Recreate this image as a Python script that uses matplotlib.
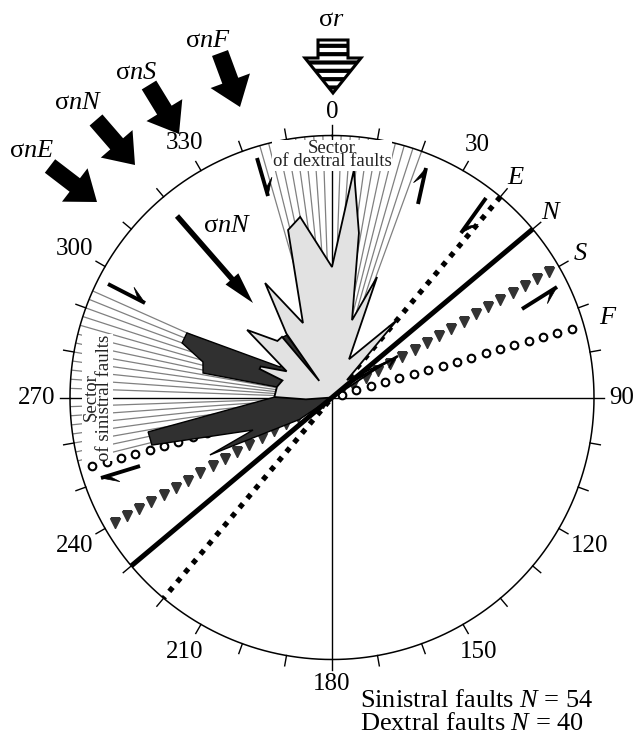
import numpy as np
import matplotlib
matplotlib.use("Agg")
import matplotlib.pyplot as plt
from matplotlib.patches import FancyArrow, Polygon

plt.rcParams['font.family'] = ['Liberation Serif', 'DejaVu Serif']
plt.rcParams['mathtext.fontset'] = 'custom'
plt.rcParams['mathtext.rm'] = 'Liberation Serif'
plt.rcParams['mathtext.it'] = 'Liberation Serif:italic'
plt.rcParams['hatch.linewidth'] = 3.0

# ---------------- data ----------------
# dextral faults rose outline (azimuth deg, relative length)
dextral_az = [258, 266, 270.5, 281, 289, 291.5, 293.5, 300, 308.5, 316, 320.5, 322.5, 324.5,
              329.7, 338.7, 345.3, 350, 360, 365.5, 369.3, 374.5, 380.5, 384, 400, 400.6,
              417, 419]
dextral_r = [0.0, 0.10, 0.22, 0.214, 0.20, 0.297, 0.297, 0.20, 0.414, 0.30, 0.30, 0.08, 0.30,
             0.506, 0.305, 0.661, 0.70, 0.498, 0.872, 0.636, 0.305, 0.491, 0.16, 0.386, 0.088,
             0.25, 0.04]
# sinistral faults rose outline
sinistral_az = [240, 236, 244.8, 247.6, 255.2, 259.4, 270.5, 280.8, 280.75, 285.4, 290, 294,
                300.4, 318, 321, 324, 326]
sinistral_r = [0.0, 0.15, 0.515, 0.326, 0.711, 0.714, 0.218, 0.214, 0.501, 0.511, 0.609, 0.606,
               0.23, 0.25, 0.297, 0.294, 0.05]
n_sinistral = 54
n_dextral = 40

line_names = ['E', 'N', 'S', 'F']
line_az = [40, 50, 60, 74]

shown_labels = [0, 30, 90, 120, 150, 180, 210, 240, 270, 300, 330]
dextral_sector = (-16, 20)
sinistral_sector = (256, 294)

# ---------------- figure ----------------
W, H = 641, 739
fig = plt.figure(figsize=(W / 100, H / 100), dpi=100)
cx, cy, R = 332, 397.5, 262
ax = fig.add_axes([(cx - R) / W, (H - cy - R) / H, 2 * R / W, 2 * R / H], projection='polar')
ax.set_theta_zero_location('N')
ax.set_theta_direction(-1)
ax.set_ylim(0, 1)
ax.set_axis_off()

rad = np.radians

# outer circle
tt = np.linspace(0, 2 * np.pi, 721)
ax.plot(tt, np.ones_like(tt), color='k', lw=1.1, zorder=6, clip_on=False)
# ticks
for a in range(0, 360, 10):
    ax.plot([rad(a), rad(a)], [1.0, 1.04], color='k', lw=1.0, zorder=6, clip_on=False)
# labels
for a in shown_labels:
    s = str(a)
    w = 12.5 * len(s)
    h = 18
    off = 277 + (w / 2) * abs(np.sin(rad(a))) + (h / 2) * abs(np.cos(rad(a)))
    ax.text(rad(a), off / R, s, ha='center', va='center', fontsize=18, clip_on=False)

# axis cross
ax.plot(rad([0, 180]), [1, 1], color='k', lw=1.0, zorder=1)
ax.plot(rad([90, 270]), [1, 1], color='k', lw=1.0, zorder=1)

# sector lines
for a in np.arange(dextral_sector[0], dextral_sector[1] + 0.1, 2):
    if a == 0:
        continue
    ax.plot([rad(a)] * 2, [0, 1], color='#808080', lw=0.9, zorder=1)
for a in np.arange(sinistral_sector[0], sinistral_sector[1] + 0.1, 2):
    if a == 270:
        continue
    ax.plot([rad(a)] * 2, [0, 1], color='#808080', lw=0.9, zorder=1)

# fault plane lines
ax.plot(rad([line_az[0], line_az[0] + 180]), [1, 1], color='k', lw=3.8,
        ls=(0, (1.0, 1.3)), dash_capstyle='butt', zorder=2)
ax.plot(rad([line_az[1], line_az[1] + 180]), [1, 1], color='k', lw=3.6, zorder=4.5,
        solid_capstyle='butt')
rs = np.arange(0.04, 0.995, 0.054)
for base in (line_az[2], line_az[2] + 180):
    ax.plot(np.full_like(rs, rad(base)), rs, ls='none', marker='v', ms=7.5,
            color='#333333', zorder=2)
rf = np.arange(0.04, 0.995, 0.057)
for base in (line_az[3], line_az[3] + 180):
    ax.plot(np.full_like(rf, rad(base)), rf, ls='none', marker='o', ms=5.5,
            mfc='white', mec='k', mew=1.5, zorder=2)

# roses
ax.fill(rad(sinistral_az), sinistral_r, facecolor='#303030', edgecolor='k', lw=1.0, zorder=3)
ax.fill(rad(dextral_az), dextral_r, facecolor='#e2e2e2', edgecolor='k', lw=1.3, zorder=4)

# sector captions
ax.text(0, 0.925, 'Sector\nof dextral faults', ha='center', va='center', fontsize=13.5,
        linespacing=0.72, zorder=7, color='#222222',
        bbox=dict(facecolor='white', edgecolor='none', pad=0.3))
ax.text(rad(270), 0.895, 'Sector\nof sinistral faults', ha='center', va='center',
        fontsize=13.5, rotation=90, linespacing=0.72, zorder=7, color='#222222',
        bbox=dict(facecolor='white', edgecolor='none', pad=0.3))

# plane labels
for name, a in zip(line_names, line_az):
    ax.text(rad(a), 1.095, r'$\mathit{' + name + '}$', ha='center', va='center',
            fontsize=19, clip_on=False)

# ---------------- overlay in pixel coordinates ----------------
ov = fig.add_axes([0, 0, 1, 1], facecolor='none')
ov.set_xlim(0, W)
ov.set_ylim(H, 0)
ov.set_axis_off()
ov.set_zorder(10)

def big_arrow(x0, y0, x1, y1, width=17, hw=42, hl=28):
    ov.add_patch(FancyArrow(x0, y0, x1 - x0, y1 - y0, width=width, head_width=hw,
                            head_length=hl, length_includes_head=True, color='k', lw=0))

big_arrow(50, 166, 97, 202)
big_arrow(96, 120, 135, 165)
big_arrow(149, 85, 179, 134)
big_arrow(220, 53, 240, 107)
big_arrow(177, 216, 253, 303, width=5.5, hw=17, hl=32)

def half_arrow(x0, y0, x1, y1, side=1, lw=2.8, hl=17, hw=9):
    ov.plot([x0, x1], [y0, y1], color='k', lw=lw, solid_capstyle='butt')
    d = np.array([x1 - x0, y1 - y0], float)
    u = d / np.hypot(*d)
    n = np.array([-u[1], u[0]]) * side
    tip = np.array([x1, y1], float)
    p2 = tip - u * hl + n * hw
    p3 = tip - u * hl * 0.45
    ov.add_patch(Polygon([tip, p2, p3], closed=True, color='k', lw=0.5))

half_arrow(257, 158, 268, 196, side=-1)
half_arrow(418, 204, 426, 168, side=-1)
half_arrow(486, 198, 461, 233, side=-1)
half_arrow(522, 309, 557, 287, side=1)
half_arrow(108, 284, 145, 303, side=-1)
half_arrow(140, 466, 101, 478, side=-1)
half_arrow(346, 385, 398, 356, side=1, lw=1.8, hl=14, hw=6)

# sigma r hatched arrow
pts = [(318, 40), (348, 40), (348, 58), (361, 58), (333, 93), (305, 58), (318, 58)]
ov.add_patch(Polygon(pts, closed=True, facecolor='white', edgecolor='k', hatch='--', lw=2.2))

# stress labels
ov.text(331, 20, r'σ$\mathit{r}$', ha='center', va='center', fontsize=19)
ov.text(208, 41, r'σ$\mathit{nF}$', ha='center', va='center', fontsize=19)
ov.text(136, 73, r'σ$\mathit{nS}$', ha='center', va='center', fontsize=19)
ov.text(78, 103, r'σ$\mathit{nN}$', ha='center', va='center', fontsize=19)
ov.text(32, 151, r'σ$\mathit{nE}$', ha='center', va='center', fontsize=19)
ov.text(227, 226, r'σ$\mathit{nN}$', ha='center', va='center', fontsize=19)

ov.text(360, 701, 'Sinistral faults $\\mathit{N}$ = %d' % n_sinistral, ha='left',
        va='center', fontsize=19)
ov.text(360, 724, 'Dextral faults $\\mathit{N}$ = %d' % n_dextral, ha='left',
        va='center', fontsize=19)

fig.savefig('out.png', dpi=100)
